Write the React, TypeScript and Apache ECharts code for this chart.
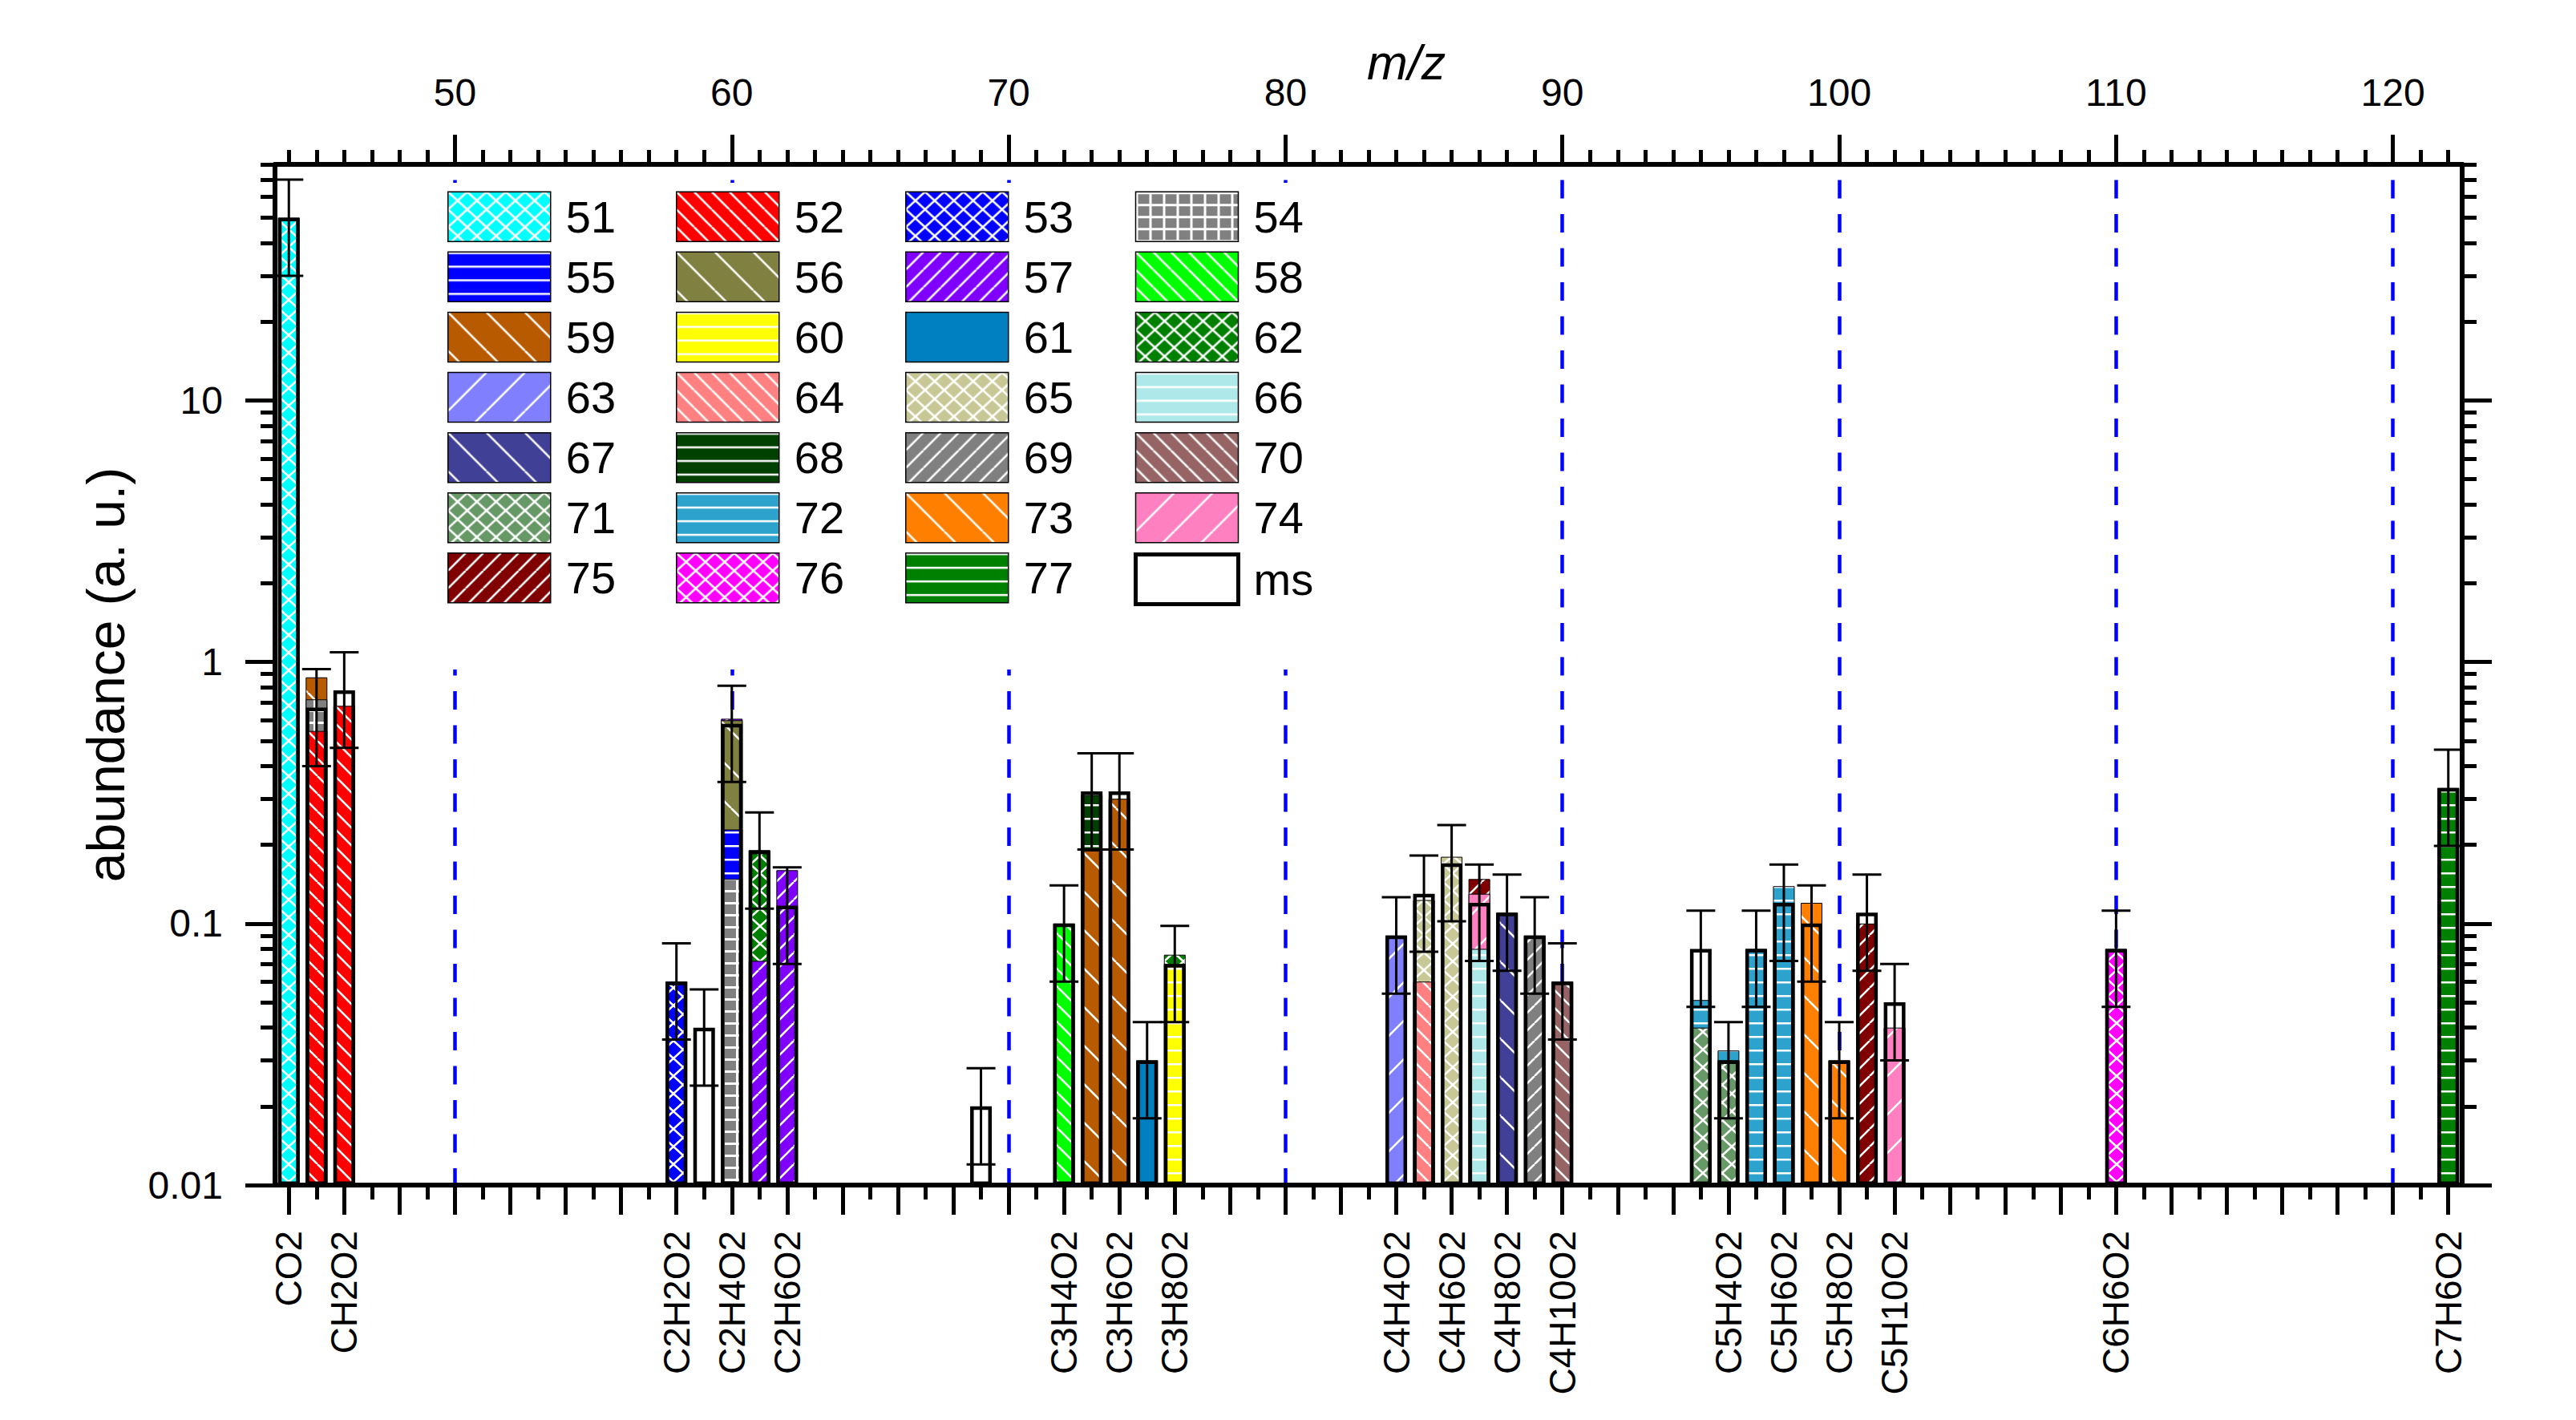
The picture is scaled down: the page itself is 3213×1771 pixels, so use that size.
import React, { useEffect, useRef } from "react";
import * as echarts from "echarts";

const FONT = '"Liberation Sans", Arial, Helvetica, sans-serif';

// ---- fragment bars: [m/z, top of the segment] (segments are layered, later numbers on top) ----
const f51 = [[44, 50]];
const f52 = [[45, 0.545], [46, 0.68]];
const f53 = [[58, 0.06]];
const f54 = [[45, 0.72], [60, 0.148]];
const f55 = [[60, 0.229]];
const f56 = [[60, 0.599]];
const f57 = [[60, 0.607], [61, 0.072], [62, 0.16]];
const f58 = [[72, 0.1]];
const f59 = [[45, 0.874], [73, 0.19], [74, 0.3]];
const f60 = [[76, 0.07]];
const f61 = [[75, 0.03]];
const f62 = [[61, 0.191], [76, 0.076]];
const f63 = [[84, 0.09]];
const f64 = [[85, 0.06]];
const f65 = [[85, 0.123], [86, 0.18]];
const f66 = [[87, 0.08]];
const f67 = [[88, 0.11]];
const f68 = [[73, 0.31]];
const f69 = [[89, 0.09]];
const f70 = [[90, 0.06]];
const f71 = [[95, 0.04], [96, 0.03]];
const f72 = [[95, 0.051], [96, 0.0327], [97, 0.08], [98, 0.139]];
const f73 = [[99, 0.12], [100, 0.03]];
const f74 = [[87, 0.13], [102, 0.04]];
const f75 = [[87, 0.148], [101, 0.1]];
const f76 = [[110, 0.08]];
const f77 = [[122, 0.33]];

const fragList: [string, number[][]][] = [
  ["51", f51], ["52", f52], ["53", f53], ["54", f54], ["55", f55], ["56", f56], ["57", f57],
  ["58", f58], ["59", f59], ["60", f60], ["61", f61], ["62", f62], ["63", f63], ["64", f64],
  ["65", f65], ["66", f66], ["67", f67], ["68", f68], ["69", f69], ["70", f70], ["71", f71],
  ["72", f72], ["73", f73], ["74", f74], ["75", f75], ["76", f76], ["77", f77],
];

// ---- measured (ms) values with error limits ----
const msMz = [44, 45, 46, 58, 59, 60, 61, 62, 69, 72, 73, 74, 75, 76, 84, 85, 86, 87, 88, 89, 90, 95, 96, 97, 98, 99, 100, 101, 102, 110, 122];
const msVal = [50, 0.67, 0.78, 0.06, 0.04, 0.58, 0.19, 0.117, 0.02, 0.1, 0.32, 0.32, 0.03, 0.07, 0.09, 0.13, 0.17, 0.12, 0.11, 0.09, 0.06, 0.08, 0.03, 0.08, 0.12, 0.1, 0.03, 0.11, 0.05, 0.08, 0.33];
const msLow = [30, 0.4, 0.47, 0.036, 0.024, 0.348, 0.114, 0.07, 0.012, 0.06, 0.192, 0.192, 0.018, 0.042, 0.054, 0.078, 0.102, 0.072, 0.066, 0.054, 0.036, 0.048, 0.018, 0.048, 0.072, 0.06, 0.018, 0.066, 0.03, 0.048, 0.198];
const msHigh = [70, 0.94, 1.09, 0.084, 0.056, 0.812, 0.266, 0.164, 0.028, 0.14, 0.448, 0.448, 0.042, 0.098, 0.126, 0.182, 0.238, 0.168, 0.154, 0.126, 0.084, 0.112, 0.042, 0.112, 0.168, 0.14, 0.042, 0.154, 0.07, 0.112, 0.462];

// ---- axis labels ----
const labelMz = [44, 46, 58, 60, 62, 72, 74, 76, 84, 86, 88, 90, 96, 98, 100, 102, 110, 122];
const labelNames = ["CO2", "CH2O2", "C2H2O2", "C2H4O2", "C2H6O2", "C3H4O2", "C3H6O2", "C3H8O2", "C4H4O2", "C4H6O2", "C4H8O2", "C4H10O2", "C5H4O2", "C5H6O2", "C5H8O2", "C5H10O2", "C6H6O2", "C7H6O2"];
const topTicks = [50, 60, 70, 80, 90, 100, 110, 120];
const yMajor = [0.01, 0.1, 1, 10];
const yMajorLabels = ["0.01", "0.1", "1", "10"];
const yMinor = [0.02, 0.03, 0.04, 0.05, 0.06, 0.07, 0.08, 0.09, 0.2, 0.3, 0.4, 0.5, 0.6, 0.7, 0.8, 0.9, 2, 3, 4, 5, 6, 7, 8, 9, 20, 30, 40, 50, 60, 70, 80];

// ---- styles ----
const fragStyle: Record<string, [string, string]> = {
  "51": ["#00FFFF", "cross"], "52": ["#FF0000", "bsD"], "53": ["#0000FF", "cross"], "54": ["#808080", "grid"],
  "55": ["#0000FF", "hor"], "56": ["#808040", "bsS"], "57": ["#8000FF", "slD"], "58": ["#00FF00", "bsD"],
  "59": ["#B85A00", "bsS"], "60": ["#FFFF00", "hor"], "61": ["#0080C0", "solid"], "62": ["#008000", "cross"],
  "63": ["#8080FF", "slS"], "64": ["#FF8080", "bsD"], "65": ["#C8C896", "cross"], "66": ["#AFE8E8", "hor"],
  "67": ["#404096", "bsS"], "68": ["#004000", "hor"], "69": ["#808080", "slD"], "70": ["#966464", "bsD"],
  "71": ["#669966", "cross"], "72": ["#2CA2CC", "hor"], "73": ["#FF8000", "bsS"], "74": ["#FF80C0", "slS"],
  "75": ["#800000", "slD"], "76": ["#FF00FF", "cross"], "77": ["#008000", "hor"],
};

function makePattern(color: string, kind: string): any {
  if (kind === "solid") return color;
  let w = 22, h = 22;
  if (kind === "cross") { w = 24; h = 22; }
  else if (kind === "bsS" || kind === "slS") { w = 48; h = 48; }
  else if (kind === "hor") { w = 12; h = 17; }
  else if (kind === "grid") { w = 17; h = 15; }
  const c = document.createElement("canvas");
  c.width = w; c.height = h;
  const g = c.getContext("2d")!;
  g.fillStyle = color;
  g.fillRect(0, 0, w, h);
  g.strokeStyle = "#fff";
  g.fillStyle = "#fff";
  g.lineWidth = 2.6;
  const back = () => {
    for (const k of [-1, 0, 1]) { g.beginPath(); g.moveTo(k * w, 0); g.lineTo(k * w + w, h); g.stroke(); }
  };
  const fwd = () => {
    for (const k of [-1, 0, 1]) { g.beginPath(); g.moveTo(k * w, h); g.lineTo(k * w + w, 0); g.stroke(); }
  };
  if (kind === "cross") { back(); fwd(); }
  else if (kind === "bsD" || kind === "bsS") back();
  else if (kind === "slD" || kind === "slS") fwd();
  else if (kind === "hor") g.fillRect(0, 0, w, 2.5);
  else if (kind === "grid") { g.fillRect(0, 0, w, 3); g.fillRect(0, 0, 3, h); }
  return { image: c, repeat: "repeat", imageWidth: w, imageHeight: h };
}

const X_MIN = 43.5;
const X_MAX = 122.5;

function range(a: number, b: number) {
  const r: number[] = [];
  for (let i = a; i <= b; i++) r.push(i);
  return r;
}

function buildOption() {
  const blackLine = { color: "#000", width: 5 };
  const xCommon = {
    type: "value", min: X_MIN, max: X_MAX,
    splitLine: { show: false },
    axisLine: { show: false },
    axisLabel: { show: false },
  };
  const yCommon = {
    type: "log", logBase: 10, min: 0.01, max: 80,
    splitLine: { show: false },
    axisLine: { show: false },
    axisLabel: { show: false },
  };
  const evens = range(44, 122).filter((v) => v % 2 === 0);
  const odds = range(44, 122).filter((v) => v % 2 === 1);
  const topMinor = range(44, 122).filter((v) => v % 10 !== 0);

  const xAxis = [
    {
      ...xCommon, position: "bottom",
      axisLine: { show: true, onZero: false, lineStyle: { color: "#000", width: 6 } },
      axisTick: { show: true, customValues: evens, length: 37, lineStyle: blackLine },
      axisLabel: {
        show: true, customValues: labelMz, rotate: 90, margin: 57, fontSize: 46, fontFamily: FONT, color: "#000",
        formatter: (v: number) => {
          const i = labelMz.findIndex((m) => Math.abs(m - v) < 1e-6);
          return i >= 0 ? labelNames[i] : "";
        },
      },
    },
    {
      ...xCommon, position: "bottom",
      axisTick: { show: true, customValues: odds, length: 18, lineStyle: blackLine },
    },
    {
      ...xCommon, position: "top",
      axisLine: { show: true, onZero: false, lineStyle: { color: "#000", width: 6 } },
      axisTick: { show: true, customValues: topTicks, length: 37, lineStyle: blackLine },
      axisLabel: {
        show: true, customValues: topTicks, margin: 66, fontSize: 48, fontFamily: FONT, color: "#000",
        formatter: (v: number) => String(Math.round(v)),
      },
      splitLine: { show: true, lineStyle: { color: "#0000FF", width: 4.5, type: [23, 19.5], dashOffset: 23 } },
    },
    {
      ...xCommon, position: "top",
      axisTick: { show: true, customValues: topMinor, length: 18, lineStyle: blackLine },
    },
  ];

  const yAxis = [
    {
      ...yCommon, position: "left", startValue: 0.01,
      axisLine: { show: true, onZero: false, lineStyle: { color: "#000", width: 6 } },
      axisTick: { show: true, customValues: yMajor, length: 37, lineStyle: blackLine },
      axisLabel: {
        show: true, customValues: yMajor, margin: 65, fontSize: 48, fontFamily: FONT, color: "#000",
        formatter: (v: number) => {
          const i = yMajor.findIndex((m) => Math.abs(Math.log10(m) - Math.log10(v)) < 1e-6);
          return i >= 0 ? yMajorLabels[i] : "";
        },
      },
    },
    {
      ...yCommon, position: "left",
      axisTick: { show: true, customValues: yMinor, length: 18, lineStyle: blackLine },
    },
    {
      ...yCommon, position: "right",
      axisLine: { show: true, onZero: false, lineStyle: { color: "#000", width: 6 } },
      axisTick: { show: true, customValues: yMajor, length: 37, lineStyle: blackLine },
    },
    {
      ...yCommon, position: "right",
      axisTick: { show: true, customValues: yMinor, length: 18, lineStyle: blackLine },
    },
  ];

  // layered bars: higher-numbered (taller cumulative) segments are drawn first, beneath
  const fragSeries = fragList
    .slice()
    .reverse()
    .map(([name, arr]) => {
      const [color, kind] = fragStyle[name];
      return {
        name, type: "bar", barWidth: 27, barGap: "-100%",
        xAxisIndex: 0, yAxisIndex: 0, silent: true, z: 2,
        itemStyle: { color: makePattern(color, kind), borderColor: "#000", borderWidth: 1 },
        data: arr.map((e) => [e[0], e[1]]),
      };
    });

  const msSeries = {
    name: "ms", type: "bar", barWidth: 27, barGap: "-100%",
    xAxisIndex: 0, yAxisIndex: 0, silent: true, z: 3,
    itemStyle: { color: "rgba(255,255,255,0)", borderColor: "#000", borderWidth: 4.5 },
    data: msMz.map((m, i) => [m, msVal[i]]),
  };

  const errSeries = {
    name: "err", type: "custom", xAxisIndex: 0, yAxisIndex: 0, silent: true, z: 4,
    encode: { x: 0, y: [1, 2] },
    data: msMz.map((m, i) => [m, msLow[i], msHigh[i]]),
    renderItem: (params: any, api: any) => {
      const x = api.value(0);
      const lo = api.coord([x, api.value(1)]);
      const hi = api.coord([x, api.value(2)]);
      const hw = 18;
      const st = { stroke: "#000", lineWidth: 3 };
      return {
        type: "group",
        children: [
          { type: "line", shape: { x1: lo[0], y1: lo[1], x2: hi[0], y2: hi[1] }, style: st },
          { type: "line", shape: { x1: hi[0] - hw, y1: hi[1], x2: hi[0] + hw, y2: hi[1] }, style: st },
          { type: "line", shape: { x1: lo[0] - hw, y1: lo[1], x2: lo[0] + hw, y2: lo[1] }, style: st },
        ],
      };
    },
  };

  const legendNames = [...fragList.map((f) => f[0]), "ms"];
  const colX = [558, 843, 1129, 1414];
  const legend = colX.map((x, c) => ({
    orient: "vertical", left: x, top: 238.5, padding: 0,
    itemWidth: 128, itemHeight: 62, itemGap: 11.6, icon: "rect", selectedMode: false, z: 6,
    textStyle: { fontSize: 56, lineHeight: 56, fontFamily: FONT, color: "#000", padding: [0, 0, 0, 14] },
    itemStyle: { borderColor: "#000", borderWidth: 1.5 },
    data: legendNames
      .filter((_, i) => i % 4 === c)
      .map((n) => (n === "ms" ? { name: "ms", itemStyle: { color: "#fff", borderColor: "#000", borderWidth: 5 } } : n)),
  }));

  return {
    animation: false,
    backgroundColor: "#fff",
    grid: { left: 343, right: 142, top: 205, bottom: 293, containLabel: false, outerBoundsMode: "none" },
    xAxis, yAxis, legend,
    graphic: {
      elements: [
        { type: "rect", z: 3, silent: true, shape: { x: 545, y: 228, width: 1100, height: 607 }, style: { fill: "#fff" } },
        {
          type: "text", x: 132, y: 841.5, rotation: Math.PI / 2, z: 6,
          style: { text: "abundance (a. u.)", fontSize: 66, fontFamily: FONT, fill: "#000", align: "center", verticalAlign: "middle" },
        },
        {
          type: "text", x: 1754, y: 78, z: 6,
          style: { text: "m/z", fontSize: 61, fontStyle: "italic", fontFamily: FONT, fill: "#000", align: "center", verticalAlign: "middle" },
        },
      ],
    },
    series: [...fragSeries, msSeries, errSeries],
  };
}

export default function App() {
  const ref = useRef<HTMLDivElement>(null);
  useEffect(() => {
    document.body.style.margin = "0";
    const chart = echarts.init(ref.current as HTMLDivElement, null, { renderer: "svg" });
    chart.setOption(buildOption() as any);
    return () => chart.dispose();
  }, []);
  return <div ref={ref} style={{ width: 3213, height: 1771 }} />;
}
